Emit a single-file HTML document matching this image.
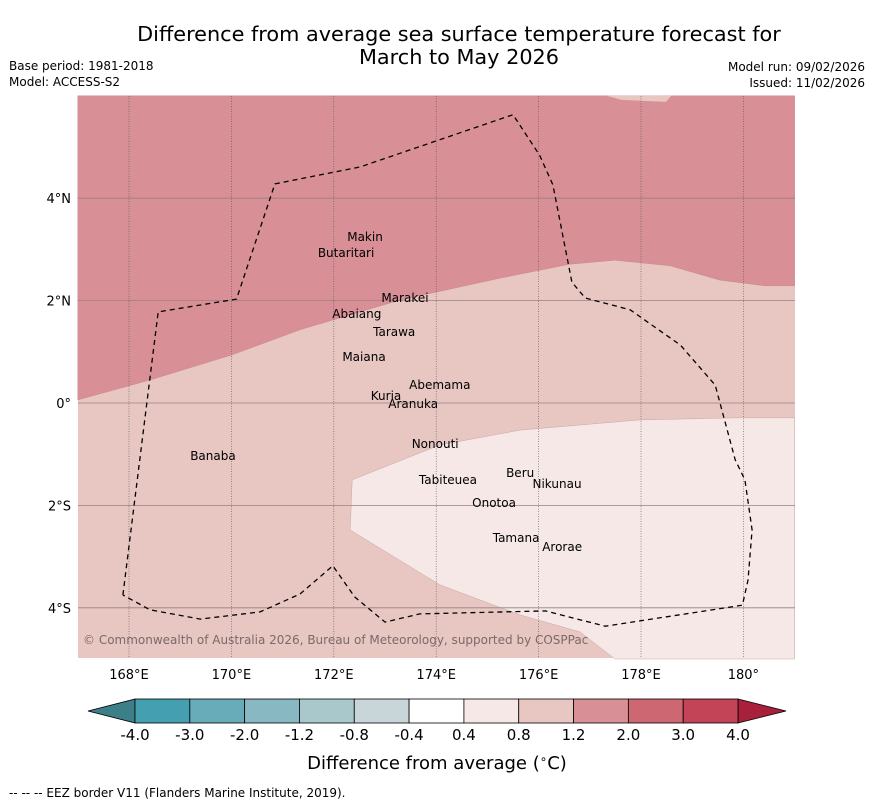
<!DOCTYPE html>
<html><head><meta charset="utf-8">
<style>
body{margin:0;background:#fff;width:873px;height:804px;overflow:hidden;font-family:"Liberation Sans","DejaVu Sans",sans-serif;}
svg text{font-family:"DejaVu Sans","Liberation Sans",sans-serif;}
</style></head>
<body>
<svg id="chart" width="873" height="804" xmlns="http://www.w3.org/2000/svg">
<text x="459" y="41" font-size="20.8" text-anchor="middle">Difference from average sea surface temperature forecast for</text>
<text x="459" y="64" font-size="20.8" text-anchor="middle">March to May 2026</text>
<text x="9" y="70" font-size="12">Base period: 1981-2018</text>
<text x="9" y="86" font-size="12">Model: ACCESS-S2</text>
<text x="865" y="71" font-size="12" text-anchor="end">Model run: 09/02/2026</text>
<text x="865" y="87" font-size="12" text-anchor="end">Issued: 11/02/2026</text>
<g id="map"></g>
<g id="cbar"></g>
<text x="437" y="769" font-size="18" text-anchor="middle">Difference from average (<tspan font-size="12" dy="-6">∘</tspan><tspan dy="6">C)</tspan></text>
<text x="9" y="797" font-size="12">--  --  -- EEZ border V11 (Flanders Marine Institute, 2019).</text>
</svg>
<script>
const lonTicks=[168,170,172,174,176,178,180];
const lonTickLabels=["168°E","170°E","172°E","174°E","176°E","178°E","180°"];
const latTicks=[4,2,0,-2,-4];
const latTickLabels=["4°N","2°N","0°","2°S","4°S"];
const warmBoundaryLon=[167.0,168.41,170.01,171.34,173.29,175.25,176.61,177.49,178.57,179.54,180.42,181.0];
const warmBoundaryLat=[0.06,0.45,0.94,1.43,2.01,2.44,2.71,2.79,2.68,2.40,2.29,2.29];
const topPatchLon=[177.33,177.62,178.49,178.59];
const topPatchLat=[6.0,5.92,5.88,6.0];
const coolLon=[172.36,174.07,175.64,177.98,179.93,181,181,177.49,176.81,175.64,174.07,172.32];
const coolLat=[-1.5,-0.82,-0.53,-0.33,-0.29,-0.29,-5,-5,-4.47,-4.14,-3.55,-2.48];
const eezLon=[167.88,168.57,170.10,170.85,172.51,175.50,176.02,176.28,176.65,176.91,177.79,178.77,179.45,179.84,180.03,180.17,180.09,179.98,177.30,176.13,173.68,173.0,172.41,171.98,171.34,170.56,169.39,168.41,167.88];
const eezLat=[-3.75,1.78,2.03,4.28,4.61,5.63,4.84,4.26,2.36,2.05,1.82,1.13,0.35,-1.11,-1.50,-2.48,-3.46,-3.95,-4.36,-4.06,-4.12,-4.28,-3.79,-3.18,-3.73,-4.08,-4.22,-4.04,-3.75];
const islandNames=["Makin","Butaritari","Marakei","Abaiang","Tarawa","Maiana","Abemama","Kuria","Aranuka","Banaba","Nonouti","Tabiteuea","Beru","Nikunau","Onotoa","Tamana","Arorae"];
const islandLon=[172.61,172.24,173.39,172.45,173.18,172.59,174.07,173.02,173.55,169.64,173.98,174.23,175.64,176.36,175.13,175.56,176.46];
const islandLat=[3.24,2.93,2.05,1.74,1.39,0.90,0.35,0.14,-0.02,-1.04,-0.80,-1.50,-1.37,-1.58,-1.95,-2.64,-2.81];
const cbarLabels=["-4.0","-3.0","-2.0","-1.2","-0.8","-0.4","0.4","0.8","1.2","2.0","3.0","4.0"];
const cbarColors=["#449fb0","#68abb9","#88b8c2","#a8c8cc","#c8d6da","#ffffff","#f5e8e6","#e8c6c2","#d88f96","#cd6873","#c24456"];
const NS="http://www.w3.org/2000/svg";
const X0=78,X1=795,Y0=96,Y1=658;
const x=lon=>129+(lon-168)*51.2;
const y=lat=>403-lat*51.2;
function mk(tag,attrs,parent){const e=document.createElementNS(NS,tag);for(const k in attrs)e.setAttribute(k,attrs[k]);parent.appendChild(e);return e;}
const map=document.getElementById('map');
function pts(lo,la){return lo.map((v,i)=>x(v).toFixed(1)+','+y(la[i]).toFixed(1)).join(' ');}
const base=mk('rect',{x:X0,y:Y0,width:X1-X0,height:Y1-Y0,fill:'#e8c6c2'},map);


const warm=mk('polygon',{points:pts(warmBoundaryLon,warmBoundaryLat)+' '+x(181)+','+y(6)+' '+x(167)+','+y(6),fill:'#d88f96',stroke:'#c98890','stroke-width':0.5},map);


const patch=mk('polygon',{points:pts(topPatchLon,topPatchLat),fill:'#e8c6c2'},map);


const cool=mk('polygon',{points:pts(coolLon,coolLat),fill:'#f5e8e6',stroke:'#c9a7a4','stroke-width':0.5},map);


lonTicks.forEach((lo,i)=>{
  const l=mk('line',{x1:x(lo),x2:x(lo),y1:Y0,y2:Y1,stroke:'#555','stroke-width':0.6,'stroke-dasharray':'1,1.5'},map);
  
  
  const t=mk('text',{x:x(lo),y:679,'font-size':13,'text-anchor':'middle'},map);t.textContent=lonTickLabels[i];
  
  
});
latTicks.forEach((la,i)=>{
  const l=mk('line',{x1:X0,x2:X1,y1:y(la),y2:y(la),stroke:'#9a8080','stroke-width':0.8},map);
  
  
  const t=mk('text',{x:71,y:y(la)+5,'font-size':13,'text-anchor':'end'},map);t.textContent=latTickLabels[i];
  
  
});
const eez=mk('polyline',{points:pts(eezLon,eezLat),fill:'none',stroke:'#000','stroke-width':1.3,'stroke-dasharray':'5,4'},map);


islandNames.forEach((n,i)=>{
  const t=mk('text',{x:x(islandLon[i]),y:y(islandLat[i])+4,'font-size':12,'text-anchor':'middle'},map);t.textContent=n;
  
  
});
const cr=mk('text',{x:83,y:644,'font-size':12,fill:'#7a6a6a'},map);cr.textContent='© Commonwealth of Australia 2026, Bureau of Meteorology, supported by COSPPac';


const cb=document.getElementById('cbar');
const CB0=135,CBW=(738-135)/cbarColors.length,CY=699,CH=24;
const lt=mk('polygon',{points:`${CB0},${CY} 88,${CY+CH/2} ${CB0},${CY+CH}`,fill:'#3c7f89',stroke:'#000','stroke-width':0.8},cb);


const cbEnd=CB0+CBW*cbarColors.length;
const rt=mk('polygon',{points:`${cbEnd},${CY} 786,${CY+CH/2} ${cbEnd},${CY+CH}`,fill:'#a8203c',stroke:'#000','stroke-width':0.8},cb);


cbarColors.forEach((c,i)=>{
  const r=mk('rect',{x:CB0+i*CBW,y:CY,width:CBW,height:CH,fill:c,stroke:'#000','stroke-width':0.8},cb);
  
  
});
cbarLabels.forEach((s,i)=>{
  const t=mk('text',{x:CB0+i*CBW,y:740,'font-size':15,'text-anchor':'middle'},cb);t.textContent=s;
  
  
});
</script>
</body></html>
